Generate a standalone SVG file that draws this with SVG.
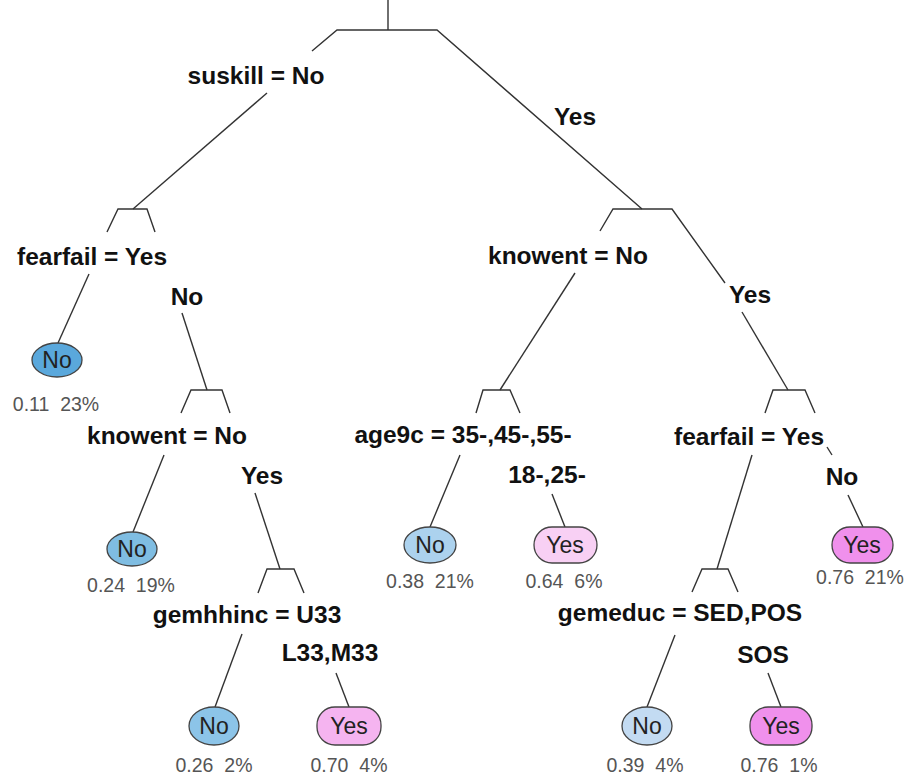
<svg xmlns="http://www.w3.org/2000/svg" width="907" height="776" viewBox="0 0 907 776">
<style>
.e{fill:none;stroke:#333;stroke-width:1.4;stroke-linejoin:miter}
.s{font-family:"Liberation Sans",Arial,sans-serif;font-weight:bold;font-size:24.5px;fill:#111;text-anchor:middle}
.l{font-family:"Liberation Sans",Arial,sans-serif;font-size:23px;fill:#222;text-anchor:middle}
.p{font-family:"Liberation Sans",Arial,sans-serif;font-size:19.5px;fill:#555;text-anchor:middle;white-space:pre}
.b{stroke:#444;stroke-width:1.3}
</style>
<rect width="907" height="776" fill="#fff"/>
<g id="connectors" class="e">
<line x1="388" y1="0" x2="388" y2="30"/>
<polyline points="312,51 337,30 437,30 642,209"/>
<line x1="267" y1="93" x2="133" y2="209"/>
<polyline points="107,232 118,209 147,209 155,232"/>
<line x1="89" y1="274" x2="58" y2="343"/>
<line x1="182" y1="313" x2="207" y2="390"/>
<polyline points="181,413 191,390 222,390 230,413"/>
<line x1="164" y1="455" x2="133" y2="532"/>
<line x1="255" y1="493" x2="280" y2="569"/>
<polyline points="258,593 267,569 294,569 304,593"/>
<line x1="242" y1="634" x2="215" y2="707"/>
<line x1="336" y1="673" x2="349" y2="707"/>
<polyline points="600,231 613,209 672,209 725,283"/>
<line x1="742" y1="312" x2="788" y2="390"/>
<line x1="575" y1="273" x2="500" y2="390"/>
<polyline points="476,413 483,390 510,390 520,413"/>
<line x1="460" y1="455" x2="430" y2="527"/>
<line x1="552" y1="494" x2="565" y2="527"/>
<polyline points="765,413 773,390 805,390 815,413"/>
<line x1="827" y1="447" x2="832" y2="455"/>
<line x1="848" y1="495" x2="863" y2="527"/>
<line x1="752" y1="455" x2="717" y2="569"/>
<polyline points="692,592 702,569 728,569 738,592"/>
<line x1="675" y1="635" x2="647" y2="707"/>
<line x1="768" y1="673" x2="781" y2="707"/>
</g>
<g id="split-labels">
<text class="s" x="256" y="84">suskill = No</text>
<text class="s" x="575" y="125">Yes</text>
<text class="s" x="92" y="265">fearfail = Yes</text>
<text class="s" x="187" y="305">No</text>
<text class="s" x="167" y="444">knowent = No</text>
<text class="s" x="262" y="484">Yes</text>
<text class="s" x="247" y="623">gemhhinc = U33</text>
<text class="s" x="330" y="661">L33,M33</text>
<text class="s" x="568" y="264">knowent = No</text>
<text class="s" x="750" y="303">Yes</text>
<text class="s" x="463" y="443">age9c = 35-,45-,55-</text>
<text class="s" x="547" y="483">18-,25-</text>
<text class="s" x="749" y="445">fearfail = Yes</text>
<text class="s" x="842" y="485">No</text>
<text class="s" x="680" y="621">gemeduc = SED,POS</text>
<text class="s" x="763" y="663">SOS</text>
</g>
<g id="leaf1"><ellipse class="b" cx="57" cy="360" rx="25" ry="17" fill="#5aa8dc"/><text class="l" x="57" y="368">No</text><text class="p" x="56" y="411" xml:space="preserve">0.11  23%</text></g>
<g id="leaf2"><ellipse class="b" cx="132" cy="549" rx="25" ry="17" fill="#7fbde2"/><text class="l" x="132" y="557">No</text><text class="p" x="131" y="592" xml:space="preserve">0.24  19%</text></g>
<g id="leaf3"><ellipse class="b" cx="214" cy="726" rx="25" ry="19" fill="#8cc4e8"/><text class="l" x="214" y="734">No</text><text class="p" x="214" y="772" xml:space="preserve">0.26  2%</text></g>
<g id="leaf4"><rect class="b" x="317" y="707" width="64" height="38" rx="18" fill="#f5b4f0"/><text class="l" x="349" y="734">Yes</text><text class="p" x="349" y="772" xml:space="preserve">0.70  4%</text></g>
<g id="leaf5"><ellipse class="b" cx="430" cy="545" rx="26" ry="18" fill="#acd2ee"/><text class="l" x="430" y="553">No</text><text class="p" x="430" y="588" xml:space="preserve">0.38  21%</text></g>
<g id="leaf6"><rect class="b" x="534" y="527" width="63" height="36" rx="18" fill="#f8d0f4"/><text class="l" x="565" y="553">Yes</text><text class="p" x="564" y="588" xml:space="preserve">0.64  6%</text></g>
<g id="leaf7"><rect class="b" x="832" y="527" width="61" height="36" rx="18" fill="#f090ec"/><text class="l" x="862" y="553">Yes</text><text class="p" x="860" y="584" xml:space="preserve">0.76  21%</text></g>
<g id="leaf8"><ellipse class="b" cx="647" cy="726" rx="25" ry="19" fill="#c3dbf2"/><text class="l" x="647" y="734">No</text><text class="p" x="645" y="772" xml:space="preserve">0.39  4%</text></g>
<g id="leaf9"><rect class="b" x="750" y="707" width="62" height="38" rx="18" fill="#f090ec"/><text class="l" x="781" y="734">Yes</text><text class="p" x="779" y="772" xml:space="preserve">0.76  1%</text></g>
</svg>
